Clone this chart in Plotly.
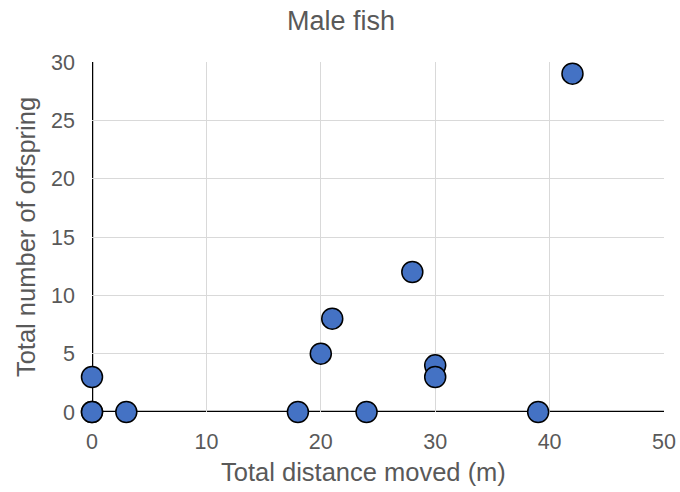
import plotly.graph_objects as go

distance = [0, 0, 0, 3, 18, 20, 21, 24, 28, 30, 30, 39, 42]
offspring = [3, 0, 0, 0, 0, 5, 8, 0, 12, 4, 3, 0, 29]

fig = go.Figure()
fig.add_trace(go.Scatter(
    x=distance, y=offspring, mode="markers",
    marker=dict(size=21, color="#4472C4", line=dict(color="black", width=1.5)),
    showlegend=False, cliponaxis=False,
))

font_color = "#595959"
fig.update_layout(
    width=680, height=492,
    margin=dict(l=92, r=16, t=62, b=80, autoexpand=False),
    paper_bgcolor="white", plot_bgcolor="white",
    font=dict(family="Liberation Sans, Arial, sans-serif", color=font_color),
    title=dict(text="Male fish", x=0.5015, xref="container", xanchor="center",
               y=0.959, yref="container", yanchor="middle",
               font=dict(size=27, color=font_color)),
    xaxis=dict(range=[0, 50], dtick=10, showgrid=True, gridcolor="#d9d9d9", gridwidth=1,
               zeroline=False, showline=False, ticks="", automargin=False,
               ticklabelstandoff=14, ticklabeloverflow="allow",
               tickfont=dict(size=21.5, color=font_color)),
    yaxis=dict(range=[0, 30], dtick=5, showgrid=True, gridcolor="#d9d9d9", gridwidth=1,
               zeroline=False, showline=False, ticks="", automargin=False,
               ticklabelstandoff=16,
               tickfont=dict(size=21.5, color=font_color),
               title=dict(text="Total number of offspring", font=dict(size=25.5, color=font_color), standoff=8)),
    annotations=[
        dict(text="Total distance moved (m)", xref="paper", yref="paper",
             x=0.474, y=-0.171, xanchor="center", yanchor="middle", showarrow=False,
             font=dict(size=25.5, color=font_color)),
    ],
    shapes=[
        dict(type="line", xref="x", yref="y", x0=0, x1=50, y0=0, y1=0,
             line=dict(color="black", width=2.5), layer="below"),
        dict(type="line", xref="x", yref="y", x0=0, x1=0, y0=0, y1=30,
             line=dict(color="black", width=2.5), layer="below"),
    ],
)

fig.write_html("out.html", config={"displayModeBar": False},
               post_script="document.body.style.margin='0';document.body.style.overflow='hidden';")
